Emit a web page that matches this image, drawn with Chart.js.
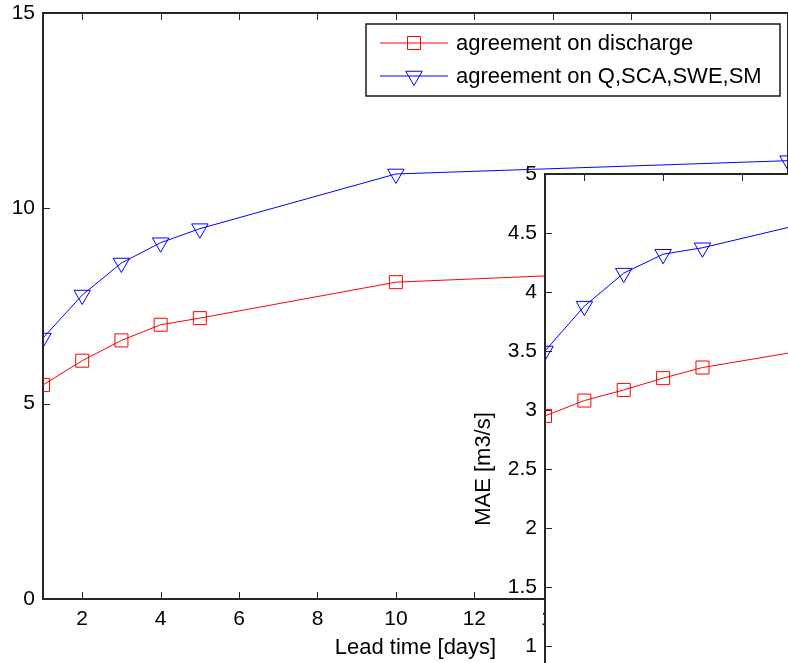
<!DOCTYPE html>
<html>
<head>
<meta charset="utf-8">
<title>Lead time vs MAE</title>
<script src="https://cdn.jsdelivr.net/npm/chart.js@4.4.1/dist/chart.umd.min.js"></script>
<style>
  html, body { margin: 0; padding: 0; background: #fff; overflow: hidden; }
  #wrap { position: relative; width: 788px; height: 663px; overflow: hidden; }
  #wrap canvas { position: absolute; left: 0; top: 0; }
</style>
</head>
<body>
<div id="wrap">
  <canvas id="mainChart" width="788" height="663"></canvas>
  <canvas id="insetChart" width="1400" height="830"></canvas>
</div>
<script>
// ---- data -------------------------------------------------------
const leadDays = [1, 2, 3, 4, 5, 10, 20];

// back axes
const mainDischarge = [5.48, 6.10, 6.62, 7.02, 7.19, 8.11, 8.53];
const mainMulti     = [6.68, 7.78, 8.60, 9.12, 9.48, 10.88, 11.22];

// front axes, MAE [m3/s]
const maeDischarge = [2.95, 3.08, 3.17, 3.27, 3.36, 3.64, 3.85];
const maeMulti     = [3.50, 3.88, 4.16, 4.32, 4.375, 4.77, 4.95];

const seriesLabels = ['agreement on discharge', 'agreement on Q,SCA,SWE,SM'];
const xTickValues  = [2, 4, 6, 8, 10, 12, 14, 16, 18, 20];
const mainYTicks   = [0, 5, 10, 15];
const insetYTicks  = [0, 0.5, 1, 1.5, 2, 2.5, 3, 3.5, 4, 4.5, 5];

Chart.defaults.font.family = "'Liberation Sans', Arial, sans-serif";
Chart.defaults.color = '#000';

// ---- matlab style box + inward ticks -----------------------------
const matlabBox = {
  id: 'matlabBox',
  beforeDraw(chart, args, opts) {
    if (!opts.fill) return;
    const a = chart.chartArea;
    chart.ctx.save();
    chart.ctx.fillStyle = '#fff';
    chart.ctx.fillRect(a.left, a.top, a.width, a.height);
    chart.ctx.restore();
  },
  beforeDatasetsDraw(chart, args, opts) {
    const { ctx, chartArea: a, scales: { x, y } } = chart;
    const len = 7;
    ctx.save();
    ctx.strokeStyle = '#262626';
    ctx.lineWidth = 1;
    ctx.beginPath();
    opts.xTicks.forEach((v) => {
      const px = Math.round(x.getPixelForValue(v)) + 0.5;
      ctx.moveTo(px, a.top); ctx.lineTo(px, a.top + len);
      ctx.moveTo(px, a.bottom); ctx.lineTo(px, a.bottom - len);
    });
    opts.yTicks.forEach((v) => {
      const py = Math.round(y.getPixelForValue(v)) + 0.5;
      ctx.moveTo(a.left, py); ctx.lineTo(a.left + len, py);
      ctx.moveTo(a.right, py); ctx.lineTo(a.right - len, py);
    });
    ctx.stroke();
    ctx.lineWidth = 2;
    ctx.strokeRect(a.left, a.top, a.width, a.height);
    ctx.restore();
  },
};

// ---- legend in a box, like the matlab one ------------------------
const boxLegend = {
  id: 'boxLegend',
  afterDraw(chart, args, o) {
    if (!o.show) return;
    const { ctx } = chart;
    ctx.save();
    ctx.fillStyle = '#fff';
    ctx.fillRect(o.x, o.y, o.w, o.h);
    ctx.strokeStyle = '#1a1a1a';
    ctx.lineWidth = 1.5;
    ctx.strokeRect(o.x, o.y, o.w, o.h);
    chart.data.datasets.forEach((ds, i) => {
      const cy = o.y + o.first + i * o.gap;
      ctx.strokeStyle = ds.borderColor;
      ctx.lineWidth = 1;
      ctx.beginPath();
      ctx.moveTo(o.x + 14, cy);
      ctx.lineTo(o.x + 82, cy);
      ctx.stroke();
      ctx.fillStyle = 'rgba(0,0,0,0)';
      Chart.helpers.drawPoint(ctx, {
        pointStyle: ds.pointStyle,
        radius: ds.pointRadius,
        rotation: ds.pointRotation,
        borderWidth: 1,
      }, o.x + 48, cy);
      ctx.fillStyle = '#000';
      ctx.font = "22px 'Liberation Sans', Arial, sans-serif";
      ctx.textBaseline = 'middle';
      ctx.fillText(ds.label, o.x + 90, cy + 1);
    });
    ctx.restore();
  },
};

function lineSets(discharge, multi) {
  return [
    { label: seriesLabels[0], data: leadDays.map((d, i) => ({ x: d, y: discharge[i] })),
      borderColor: '#ff0000', pointStyle: 'rect', pointRadius: 9.2, pointRotation: 0 },
    { label: seriesLabels[1], data: leadDays.map((d, i) => ({ x: d, y: multi[i] })),
      borderColor: '#0000ff', pointStyle: 'triangle', pointRadius: 9.5, pointRotation: 180 },
  ].map((ds) => Object.assign(ds, {
    borderWidth: 1,
    pointBorderColor: ds.borderColor,
    pointBackgroundColor: 'rgba(0,0,0,0)',
    pointBorderWidth: 1,
    pointHoverRadius: ds.pointRadius,
    tension: 0,
    fill: false,
  }));
}

function xAxis(tickList, height, titleText) {
  return {
    type: 'linear', min: 1, max: 20,
    grid: { display: false, drawTicks: false },
    border: { display: false },
    ticks: { autoSkip: false, maxRotation: 0, padding: 8, font: { size: 21 }, callback: (v) => String(v) },
    title: { display: true, text: titleText, font: { size: 22 }, padding: { top: 0, bottom: 2 } },
    afterBuildTicks: (s) => { s.ticks = tickList.map((v) => ({ value: v })); },
    afterFit: (s) => { s.height = height; s.paddingLeft = 0; s.paddingRight = 0; },
  };
}

function yAxis(min, max, tickList, width, titleText) {
  return {
    min, max,
    grid: { display: false, drawTicks: false },
    border: { display: false },
    ticks: { autoSkip: false, padding: 8, font: { size: 21 }, callback: (v) => String(v) },
    title: { display: !!titleText, text: titleText, font: { size: 22 }, padding: { top: 6, bottom: 0 } },
    afterBuildTicks: (s) => { s.ticks = tickList.map((v) => ({ value: v })); },
    afterFit: (s) => { s.width = width; s.paddingTop = 0; s.paddingBottom = 0; },
  };
}

// ---- back axes -------------------------------------------------
new Chart(document.getElementById('mainChart'), {
  type: 'line',
  data: { datasets: lineSets(mainDischarge, mainMulti) },
  options: {
    responsive: false,
    animation: false,
    events: [],
    layout: { autoPadding: false, padding: { top: 13, right: 0, left: 0, bottom: 0 } },
    plugins: {
      legend: { display: false },
      tooltip: { enabled: false },
      matlabBox: { fill: false, xTicks: xTickValues, yTicks: mainYTicks },
      boxLegend: { show: true, x: 366, y: 24, w: 414, h: 72, first: 19, gap: 33 },
    },
    scales: {
      x: xAxis(xTickValues, 64, 'Lead time [days]'),
      y: yAxis(0, 15, mainYTicks, 43, ''),
    },
  },
  plugins: [matlabBox, boxLegend],
});

// ---- front (inset) axes ------------------------------------------
new Chart(document.getElementById('insetChart'), {
  type: 'line',
  data: { datasets: lineSets(maeDischarge, maeMulti) },
  options: {
    responsive: false,
    animation: false,
    events: [],
    layout: { autoPadding: false, padding: { top: 174, right: 107, left: 465, bottom: 0 } },
    plugins: {
      legend: { display: false },
      tooltip: { enabled: false },
      matlabBox: { fill: true, xTicks: xTickValues, yTicks: insetYTicks },
      boxLegend: { show: false },
    },
    scales: {
      x: xAxis(xTickValues, 66, 'Lead time [days]'),
      y: yAxis(0, 5, insetYTicks, 80, 'MAE [m3/s]'),
    },
  },
  plugins: [matlabBox, boxLegend],
});
</script>
</body>
</html>
